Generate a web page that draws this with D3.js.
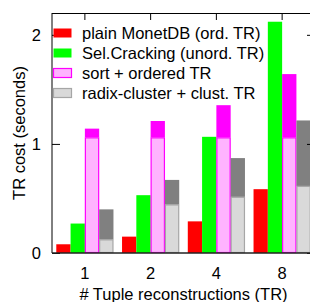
<!DOCTYPE html>
<html>
<head>
<meta charset="utf-8">
<script src="https://cdn.jsdelivr.net/npm/d3@7"></script>
<style>
  body { margin: 0; background: #fff; }
  text { font-family: "Liberation Sans", Arial, sans-serif; font-size: 16.5px; fill: #000; }
</style>
</head>
<body>
<div class="chart"></div>
<script>
// data
const categories = ["1", "2", "4", "8"];
const plainMonet = [0.08, 0.15, 0.29, 0.585];
const selCracking = [0.27, 0.53, 1.065, 2.12];
const sortCost = [1.06, 1.06, 1.06, 1.06];
const orderedTR = [0.08, 0.15, 0.295, 0.58];
const radixCluster = [0.125, 0.445, 0.515, 0.615];
const clustTR = [0.275, 0.225, 0.355, 0.6];
const seriesNames = ["plain MonetDB (ord. TR)", "Sel.Cracking (unord. TR)", "sort + ordered TR", "radix-cluster + clust. TR"];
const yTicks = [0, 1, 2];

const width = 310, height = 302;
const margin = {top: 13, right: -5, bottom: 49, left: 52};

const svg = d3.select('.chart').append('svg')
    .attr("width", width)
    .attr("height", height);

const xScale = d3.scaleBand()
    .domain(categories)
    .range([margin.left, width - margin.right]);

const inner = d3.scaleBand()
    .domain(d3.range(4))
    .range([0, xScale.bandwidth()])
    .paddingInner(0)
    .paddingOuter(0.3);

const yScale = d3.scaleLinear()
    .domain([0, 2.2])
    .range([height - margin.bottom, margin.top]);

// stacked segments: [series index, bottom, top, fill, stroke]
const segs = [];
categories.forEach((c, i) => {
    segs.push({c, s: 0, y0: 0, y1: plainMonet[i], fill: "#ff0000", stroke: "none"});
    segs.push({c, s: 1, y0: 0, y1: selCracking[i], fill: "#00ff00", stroke: "none"});
    segs.push({c, s: 2, y0: 0, y1: sortCost[i], fill: "#ffb3ff", stroke: "#ff00ff"});
    segs.push({c, s: 2, y0: sortCost[i], y1: sortCost[i] + orderedTR[i], fill: "#ff00ff", stroke: "none"});
    segs.push({c, s: 3, y0: 0, y1: radixCluster[i], fill: "#d9d9d9", stroke: "#a6a6a6"});
    segs.push({c, s: 3, y0: radixCluster[i], y1: radixCluster[i] + clustTR[i], fill: "#808080", stroke: "none"});
});

svg.append("g").selectAll("rect")
    .data(segs)
    .enter()
    .append("rect")
    .attr("x", d => xScale(d.c) + inner(d.s) + (d.stroke == "none" ? 0 : 0.5))
    .attr("y", d => yScale(d.y1) + (d.stroke == "none" ? 0 : 0.5))
    .attr("width", d => inner.bandwidth() - (d.stroke == "none" ? 0 : 1))
    .attr("height", d => yScale(d.y0) - yScale(d.y1) - (d.stroke == "none" ? 0 : 1))
    .style("fill", d => d.fill)
    .style("stroke", d => d.stroke)
    .style("stroke-width", 1.2);

// left axis, ticks inward
const yAxis = d3.axisLeft(yScale).tickValues(yTicks).tickFormat(d3.format("d"))
    .tickSize(-8).tickPadding(11);
const yMinor = d3.axisLeft(yScale).tickValues(d3.range(0, 2.21, 0.1)).tickFormat("").tickSize(-4);
const gy = svg.append("g").attr("transform", `translate(${margin.left},0)`);
gy.call(yMinor);
gy.call(yAxis);
gy.selectAll(".domain").remove();

// right border ticks, inward
const gr = svg.append("g").attr("transform", `translate(${width - margin.right},0)`);
gr.call(d3.axisRight(yScale).tickValues(d3.range(0, 2.21, 0.1)).tickFormat("").tickSize(-4));
gr.call(d3.axisRight(yScale).tickValues(yTicks).tickFormat("").tickSize(-8));
gr.selectAll(".domain").remove();

// top border ticks
const gt = svg.append("g").attr("transform", `translate(0,${margin.top})`);
gt.call(d3.axisTop(xScale).tickFormat("").tickSize(-7));
gt.selectAll(".domain").remove();

// bottom axis
const gx = svg.append("g").attr("transform", `translate(0,${height - margin.bottom})`);
gx.call(d3.axisBottom(xScale).tickSize(0).tickPadding(14));
gx.selectAll(".domain").remove();

svg.selectAll(".tick text").style("font-size", "16.5px").style("font-family", "Liberation Sans, Arial, sans-serif");
svg.selectAll(".tick line").style("stroke", "#000");

// border lines
svg.append("line")
    .attr("x1", margin.left).attr("x2", margin.left)
    .attr("y1", margin.top).attr("y2", height - margin.bottom)
    .style("stroke", "#000");
svg.append("line")
    .attr("x1", margin.left).attr("x2", width - margin.right)
    .attr("y1", margin.top + 0.5).attr("y2", margin.top + 0.5)
    .style("stroke", "#000");
svg.append("line")
    .attr("x1", margin.left).attr("x2", width - margin.right)
    .attr("y1", height - margin.bottom).attr("y2", height - margin.bottom)
    .style("stroke", "#222").style("stroke-width", 1.5);

// titles
svg.append("text")
    .attr("x", (margin.left + width - margin.right) / 2)
    .attr("y", 300)
    .attr("text-anchor", "middle")
    .text("# Tuple reconstructions (TR)");
svg.append("text")
    .attr("transform", `translate(19,${(margin.top + height - margin.bottom) / 2}) rotate(-90)`)
    .attr("text-anchor", "middle")
    .attr("dy", "0.35em")
    .text("TR cost (seconds)");

// legend
const legendFill = ["#ff0000", "#00ff00", "#ffb3ff", "#d9d9d9"];
const legendStroke = ["none", "none", "#ff00ff", "#a6a6a6"];
const legend = svg.append("g").selectAll("g")
    .data(seriesNames)
    .enter()
    .append("g")
    .attr("transform", (d, i) => `translate(53,${33 + i * 20})`);
legend.append("rect")
    .attr("x", 0.5).attr("y", -4.5)
    .attr("width", 18).attr("height", 9)
    .style("fill", (d, i) => legendFill[i])
    .style("stroke", (d, i) => legendStroke[i])
    .style("stroke-width", 1.2);
legend.append("text")
    .attr("x", 29)
    .attr("dy", "0.35em")
    .text(d => d);
</script>
</body>
</html>
